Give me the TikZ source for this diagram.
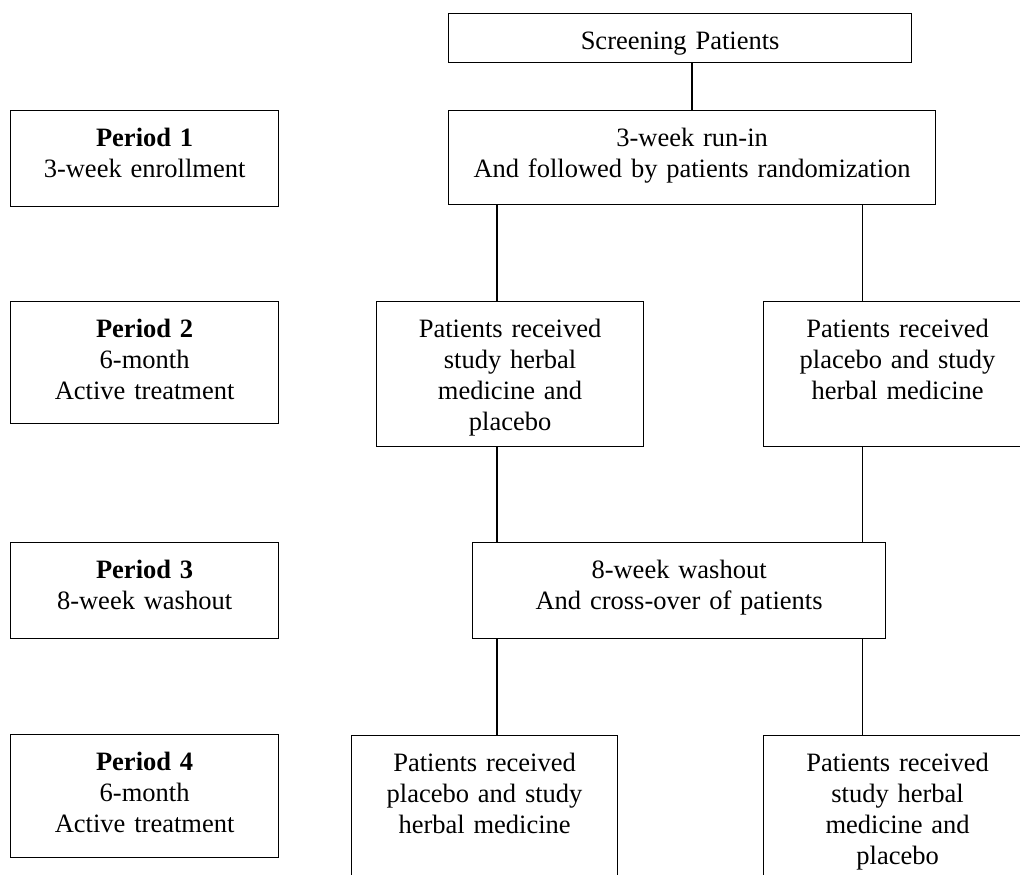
\documentclass[tikz,border=0pt]{standalone}
\usepackage{fontspec}
\setmainfont{Liberation Serif}
\usepackage{tikz}
\usetikzlibrary{positioning,calc}

\begin{document}
\begin{tikzpicture}[x=1pt,y=-1pt]
        \tikzstyle{every node}=[font=\fontsize{26.5}{31}\selectfont]
        \tikzstyle{box}=[draw,line width=1.2pt,inner sep=0pt,align=center,text height=36pt,anchor=north west]
        \useasboundingbox (0,0) rectangle (1020,875);
        \clip (0,0) rectangle (1020,875);

        %%% Periods
        \node[box,text width=268pt,text depth=60pt] (per1) at (10,110) {\textbf{Period 1}\\3-week enrollment};
        \node[box,text width=268pt,text depth=86pt] (per2) at (10,301) {\textbf{Period 2}\\6-month\\Active treatment};
        \node[box,text width=268pt,text depth=60pt] (per3) at (10,542) {\textbf{Period 3}\\8-week washout};
        \node[box,text width=268pt,text depth=87pt] (per4) at (10,734) {\textbf{Period 4}\\6-month\\Active treatment};

        %%% Flow
        \node[box,text width=463pt,text depth=13pt] (screen) at (448,13) {Screening Patients};
        \node[box,text width=487pt,text depth=58pt] (runin) at (448,110) {3-week run-in\\And followed by patients randomization};
        \node[box,text width=267pt,text depth=109pt] (armA) at (376,301) {Patients received\\study herbal\\medicine and\\placebo};
        \node[box,text width=268pt,text depth=109pt] (armB) at (763,301) {Patients received\\placebo and study\\herbal medicine};
        \node[box,text width=413pt,text depth=60pt] (wash) at (472,542) {8-week washout\\And cross-over of patients};
        \node[box,text width=266pt,text depth=144pt] (armC) at (351,735) {Patients received\\placebo and study\\herbal medicine};
        \node[box,text width=268pt,text depth=144pt] (armD) at (763,735) {Patients received\\study herbal\\medicine and\\placebo};

        \coordinate (xa) at (692,0);
        \coordinate (xl) at (497,0);
        \coordinate (xr) at (862,0);

        \draw[line width=1.2pt] (screen.south -| xa) -- (runin.north -| xa);
        \draw[line width=1.5pt] (runin.south -| xl) -- (armA.north -| xl);
        \draw[line width=1.5pt] (armA.south -| xl) -- (wash.north -| xl);
        \draw[line width=1.5pt] (wash.south -| xl) -- (armC.north -| xl);
        \draw[line width=0.9pt] (runin.south -| xr) -- (armB.north -| xr);
        \draw[line width=0.9pt] (armB.south -| xr) -- (wash.north -| xr);
        \draw[line width=0.9pt] (wash.south -| xr) -- (armD.north -| xr);
\end{tikzpicture}
\end{document}
